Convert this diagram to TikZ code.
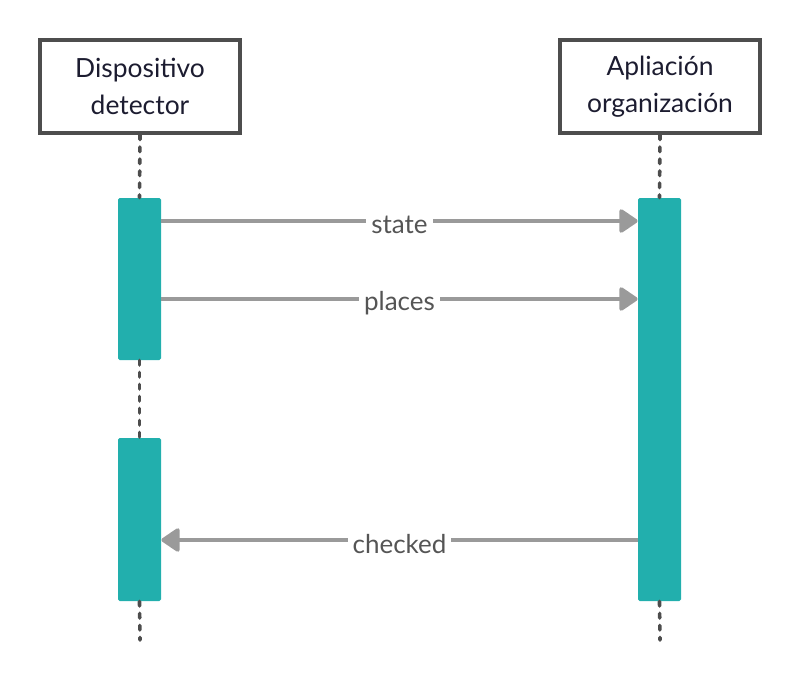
\documentclass[tikz,border=0pt]{standalone}
\usepackage{fontspec}
\setmainfont{Lato}
\usepackage{tikz}
\usetikzlibrary{arrows.meta,positioning}

\definecolor{actcol}{HTML}{22AFAD}
\definecolor{boxcol}{HTML}{4D4D4D}
\definecolor{msgcol}{HTML}{9A9A9A}
\definecolor{txtcol}{HTML}{1C1C30}
\definecolor{lblcol}{HTML}{555555}

\begin{document}
\begin{tikzpicture}[x=0.5pt, y=-0.5pt, inner sep=0pt]
    \tikzstyle{actor}=[rectangle, draw=boxcol, line width=2pt, fill=white, text=txtcol,
        minimum width=100pt, minimum height=46.5pt, align=center, font=\fontsize{13.2}{18.5}\selectfont]
    \tikzstyle{bar}=[rectangle, rounded corners=0.8pt, fill=actcol, minimum width=21.5pt]
    \tikzstyle{life}=[draw=boxcol, line width=1.8pt, line cap=round, dash pattern=on 2.3pt off 3.7pt]
    \tikzstyle{msg}=[draw=msgcol, line width=2pt, -{Triangle[round, length=10pt, width=13pt]}]
    \tikzstyle{lbl}=[fill=white, text=lblcol, inner xsep=2.5pt, inner ysep=1pt, font=\fontsize{13}{15}\selectfont]

    \useasboundingbox (0,0) rectangle (800,680);

    % actors
    \node[actor] (Dev) at (140,86.5) {Dispositivo\\detector};
    \node[actor] (App) at (660,86.5) {Apliación\\organización};

    % activation bars
    \node[bar, minimum height=81pt] (Dev1) at (139.5,279) {};
    \node[bar, minimum height=81.5pt] (Dev2) at (139.5,519.5) {};
    \node[bar, minimum height=201.5pt] (App1) at (659.5,399.5) {};

    \coordinate (DevEnd) at (140,640);
    \coordinate (AppEnd) at (660,640);

    % lifelines
    \draw[life] (Dev.south) -- (Dev1.north);
    \draw[life] (Dev1.south) -- (Dev2.north);
    \draw[life] (Dev2.south) -- (DevEnd);
    \draw[life] (App.south) -- (App1.north);
    \draw[life] (App1.south) -- (AppEnd);

    % messages
    \coordinate (m1) at (0,221);
    \coordinate (m2) at (0,299);
    \coordinate (m3) at (0,540);
    \draw[msg] (Dev1.east |- m1) -- node[lbl, yshift=-2pt] {state} (App1.west |- m1);
    \draw[msg] (Dev1.east |- m2) -- node[lbl, yshift=-2pt] {places} (App1.west |- m2);
    \draw[msg] (App1.west |- m3) -- node[lbl, yshift=-2pt] {checked} (Dev2.east |- m3);
\end{tikzpicture}
\end{document}
